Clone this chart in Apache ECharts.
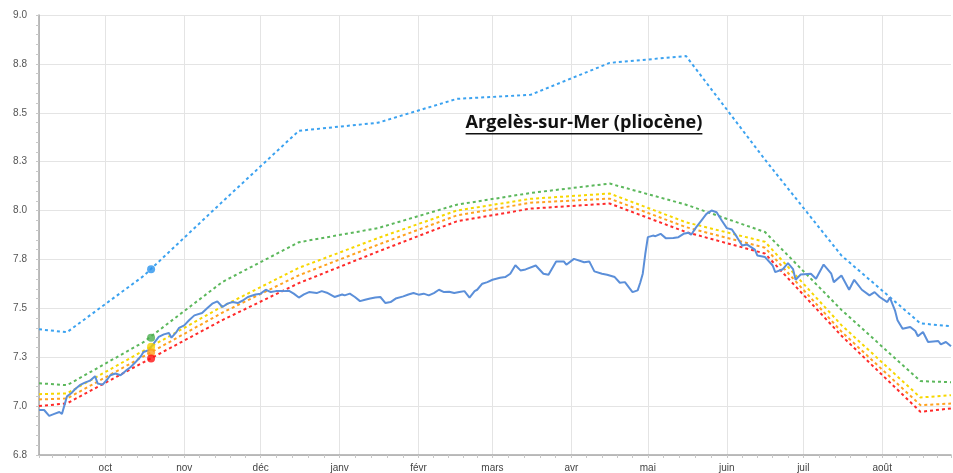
<!DOCTYPE html>
<html>
<head>
<meta charset="utf-8">
<title>Argelès-sur-Mer (pliocène)</title>
<script src="https://cdn.jsdelivr.net/npm/echarts@6.0.0/dist/echarts.min.js"></script>
<style>
  html, body { margin: 0; padding: 0; background: #fff; }
  #main { width: 953px; height: 473px; }
</style>
</head>
<body>
<div id="main"></div>
<script>
// noms des mois (axe x)
var monthLabels = ['janv', 'févr', 'mars', 'avr', 'mai', 'juin', 'juil', 'août', 'sept', 'oct', 'nov', 'déc'];

// niveau mesuré (courbe bleue continue)
var actualDates = [
    '2023-09-05', '2023-09-07', '2023-09-09', '2023-09-11', '2023-09-13', '2023-09-14', '2023-09-15', '2023-09-16',
    '2023-09-18', '2023-09-19', '2023-09-21', '2023-09-23', '2023-09-25', '2023-09-27', '2023-09-28', '2023-09-30',
    '2023-10-02', '2023-10-03', '2023-10-05', '2023-10-07', '2023-10-09', '2023-10-11', '2023-10-13', '2023-10-15',
    '2023-10-16', '2023-10-18', '2023-10-20', '2023-10-22', '2023-10-24', '2023-10-26', '2023-10-27', '2023-10-29',
    '2023-10-30', '2023-11-01', '2023-11-03', '2023-11-05', '2023-11-08', '2023-11-10', '2023-11-12', '2023-11-14',
    '2023-11-16', '2023-11-18', '2023-11-20', '2023-11-22', '2023-11-24', '2023-11-26', '2023-11-29', '2023-12-01',
    '2023-12-03', '2023-12-05', '2023-12-07', '2023-12-10', '2023-12-12', '2023-12-14', '2023-12-16', '2023-12-18',
    '2023-12-20', '2023-12-23', '2023-12-25', '2023-12-27', '2023-12-30', '2024-01-02', '2024-01-03', '2024-01-05',
    '2024-01-07', '2024-01-09', '2024-01-11', '2024-01-13', '2024-01-15', '2024-01-17', '2024-01-19', '2024-01-21',
    '2024-01-23', '2024-01-26', '2024-01-28', '2024-01-30', '2024-02-01', '2024-02-03', '2024-02-05', '2024-02-07',
    '2024-02-09', '2024-02-11', '2024-02-13', '2024-02-15', '2024-02-17', '2024-02-19', '2024-02-21', '2024-02-23',
    '2024-02-24', '2024-02-26', '2024-02-28', '2024-03-01', '2024-03-04', '2024-03-06', '2024-03-08', '2024-03-10',
    '2024-03-12', '2024-03-14', '2024-03-18', '2024-03-21', '2024-03-23', '2024-03-26', '2024-03-29', '2024-03-30',
    '2024-04-02', '2024-04-06', '2024-04-08', '2024-04-10', '2024-04-13', '2024-04-15', '2024-04-18', '2024-04-20',
    '2024-04-22', '2024-04-24', '2024-04-25', '2024-04-27', '2024-04-28', '2024-04-29', '2024-04-30', '2024-05-01',
    '2024-05-03', '2024-05-04', '2024-05-06', '2024-05-08', '2024-05-11', '2024-05-13', '2024-05-15', '2024-05-17',
    '2024-05-18', '2024-05-20', '2024-05-22', '2024-05-24', '2024-05-26', '2024-05-28', '2024-05-30', '2024-06-01',
    '2024-06-03', '2024-06-05', '2024-06-07', '2024-06-09', '2024-06-12', '2024-06-13', '2024-06-16', '2024-06-19',
    '2024-06-20', '2024-06-23', '2024-06-25', '2024-06-27', '2024-06-28', '2024-06-30', '2024-07-04', '2024-07-06',
    '2024-07-09', '2024-07-12', '2024-07-13', '2024-07-16', '2024-07-19', '2024-07-21', '2024-07-24', '2024-07-27',
    '2024-07-29', '2024-07-31', '2024-08-03', '2024-08-04', '2024-08-06', '2024-08-07', '2024-08-09', '2024-08-12',
    '2024-08-14', '2024-08-15', '2024-08-17', '2024-08-19', '2024-08-23', '2024-08-24', '2024-08-26', '2024-08-28'
];
var actualValues = [
    6.98, 6.98, 6.95, 6.96, 6.97, 6.96, 7.005, 7.05,
    7.07, 7.085, 7.107, 7.12, 7.13, 7.153, 7.116, 7.11,
    7.14, 7.158, 7.167, 7.158, 7.18, 7.20, 7.226, 7.255,
    7.277, 7.286, 7.32, 7.354, 7.367, 7.374, 7.35, 7.38,
    7.40, 7.413, 7.44, 7.464, 7.476, 7.50, 7.524, 7.536,
    7.507, 7.524, 7.532, 7.527, 7.54, 7.558, 7.571, 7.575,
    7.595, 7.583, 7.588, 7.588, 7.59, 7.575, 7.555, 7.571,
    7.583, 7.578, 7.588, 7.58, 7.558, 7.571, 7.566, 7.575,
    7.558, 7.537, 7.544, 7.55, 7.555, 7.558, 7.527, 7.532,
    7.55, 7.561, 7.571, 7.578, 7.57, 7.575, 7.566, 7.578,
    7.595, 7.583, 7.585, 7.578, 7.583, 7.588, 7.555, 7.588,
    7.595, 7.626, 7.634, 7.646, 7.656, 7.66, 7.677, 7.72,
    7.694, 7.699, 7.719, 7.677, 7.672, 7.74, 7.74, 7.723,
    7.753, 7.736, 7.74, 7.689, 7.677, 7.672, 7.66, 7.631,
    7.634, 7.60, 7.583, 7.592, 7.631, 7.677, 7.779, 7.864,
    7.872, 7.869, 7.881, 7.859, 7.86, 7.864, 7.881, 7.886,
    7.876, 7.915, 7.949, 7.983, 8.0, 7.991, 7.949, 7.91,
    7.903, 7.864, 7.821, 7.826, 7.80, 7.77, 7.762, 7.719,
    7.685, 7.70, 7.731, 7.70, 7.646, 7.673, 7.677, 7.651,
    7.724, 7.677, 7.634, 7.668, 7.595, 7.646, 7.595, 7.566,
    7.583, 7.558, 7.532, 7.555, 7.49, 7.439, 7.396, 7.405,
    7.384, 7.357, 7.379, 7.328, 7.333, 7.316, 7.328, 7.306
];

// seuils mensuels (courbes en pointillés)
var refDates = [
    '2023-09-05', '2023-09-16', '2023-10-16', '2023-11-16', '2023-12-16', '2024-01-16', '2024-02-16',
    '2024-03-16', '2024-04-16', '2024-05-16', '2024-06-16', '2024-07-16', '2024-08-16', '2024-08-28'
];
var maxValues    = [7.393, 7.378, 7.665, 8.045, 8.408, 8.449, 8.571, 8.592, 8.755, 8.79, 8.26, 7.77, 7.423, 7.408];
var greenValues  = [7.117, 7.107, 7.327, 7.635, 7.838, 7.91, 8.03, 8.09, 8.138, 8.03, 7.89, 7.492, 7.128, 7.122];
var yellowValues = [7.061, 7.065, 7.283, 7.51, 7.707, 7.859, 8.0, 8.06, 8.087, 7.94, 7.84, 7.414, 7.044, 7.056];
var orangeValues = [7.034, 7.039, 7.254, 7.478, 7.669, 7.825, 7.975, 8.04, 8.061, 7.915, 7.81, 7.381, 7.005, 7.013];
var redValues    = [7.0, 7.014, 7.224, 7.44, 7.629, 7.79, 7.945, 8.01, 8.036, 7.89, 7.78, 7.36, 6.971, 6.988];

// points du jour
var markerDate = '2023-10-19';
var markerValues = [7.70, 7.35, 7.303, 7.274, 7.243];
var markerColors = ['#2b93ee', '#4caf50', '#f5d000', '#ff9f1a', '#ff1010'];

var titleText = 'Argelès-sur-Mer (pliocène)';

function zip(dates, values) {
    var out = [];
    for (var i = 0; i < dates.length; i++) {
        out.push([dates[i], values[i]]);
    }
    return out;
}

function dashed(name, color, values) {
    return {
        name: name,
        type: 'line',
        data: zip(refDates, values),
        showSymbol: false,
        smooth: false,
        lineStyle: { color: color, width: 2, type: [3, 3] },
        z: 2
    };
}

var chart = echarts.init(document.getElementById('main'), null, { renderer: 'canvas' });

// taille du titre : on vise ~237px de large comme l'original
var ctx = document.createElement('canvas').getContext('2d');
ctx.font = 'bold 100px "Open Sans"';
var titleSize = Math.round(100 * 237 / ctx.measureText(titleText).width * 10) / 10;
var titleFont = 'bold ' + titleSize + 'px "Open Sans"';
ctx.font = titleFont;
var titleW = ctx.measureText(titleText).width;
var titleX = 584;

var markerData = [];
for (var k = 0; k < markerValues.length; k++) {
    markerData.push({ value: [markerDate, markerValues[k]], itemStyle: { color: markerColors[k] } });
}

chart.setOption({
    animation: false,
    grid: { left: 39, right: 2, top: 15, bottom: 18 },
    xAxis: {
        type: 'time',
        min: '2023-09-05',
        max: '2024-08-28',
        splitNumber: 12,
        minInterval: 28 * 86400000,
        maxInterval: 31 * 86400000,
        axisLine: { lineStyle: { color: '#a8a8a8', width: 1.5 } },
        axisTick: { show: true, length: 3, lineStyle: { color: '#c8c8c8' } },
        minorTick: { show: true, splitNumber: 5, length: 3, lineStyle: { color: '#c8c8c8' } },
        splitLine: { show: true, showMaxLine: false, lineStyle: { color: '#e4e4e4' } },
        axisLabel: {
            color: '#444',
            fontSize: 10,
            fontFamily: 'Liberation Sans',
            margin: 8,
            formatter: function (val) {
                var d = new Date(val);
                return d.getDate() === 1 ? monthLabels[d.getMonth()] : '';
            }
        }
    },
    yAxis: {
        type: 'value',
        min: 6.75,
        max: 9,
        interval: 0.25,
        axisLine: { show: true, lineStyle: { color: '#a8a8a8', width: 1.5 } },
        axisTick: { show: true, length: 3, lineStyle: { color: '#c8c8c8' } },
        minorTick: { show: true, splitNumber: 5, length: 3, lineStyle: { color: '#c8c8c8' } },
        splitLine: { show: true, lineStyle: { color: '#e4e4e4' } },
        axisLabel: {
            color: '#555',
            fontSize: 10,
            fontFamily: 'Liberation Sans',
            margin: 12,
            formatter: function (v) { return v.toFixed(1); }
        }
    },
    series: [
        dashed('max', '#3ba2f0', maxValues),
        dashed('vert', '#5cb85c', greenValues),
        dashed('jaune', '#f7d700', yellowValues),
        dashed('orange', '#ffa21f', orangeValues),
        dashed('rouge', '#ff2a2a', redValues),
        {
            name: 'niveau',
            type: 'line',
            data: zip(actualDates, actualValues),
            showSymbol: false,
            lineStyle: { color: '#5b8fd9', width: 2 },
            z: 3
        },
        {
            name: 'jour',
            type: 'scatter',
            data: markerData,
            symbolSize: 8,
            z: 4
        }
    ],
    graphic: [
        {
            type: 'text',
            x: titleX,
            y: 114,
            z: 100,
            style: {
                text: titleText,
                font: titleFont,
                fill: '#111',
                align: 'center',
                verticalAlign: 'top'
            }
        },
        {
            type: 'rect',
            z: 100,
            shape: { x: titleX - titleW / 2, y: 133, width: titleW, height: 1.5 },
            style: { fill: '#111' }
        }
    ]
});
</script>
</body>
</html>
